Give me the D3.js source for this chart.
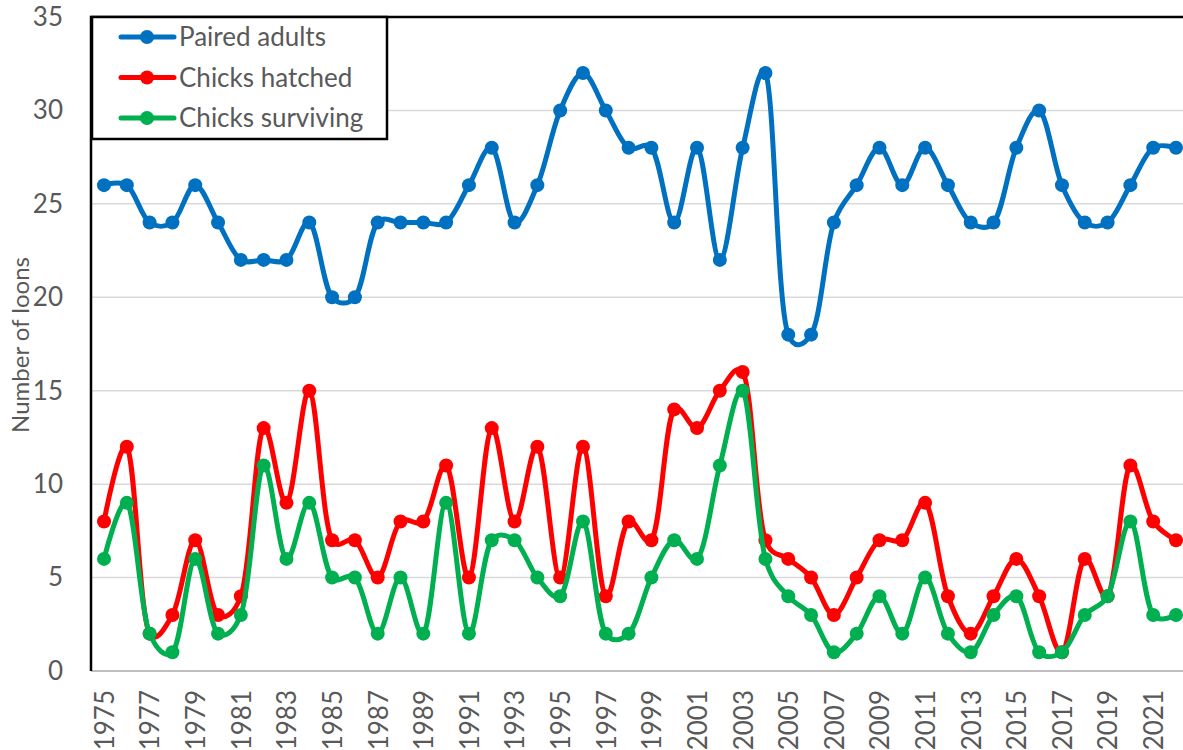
<!DOCTYPE html>
<html>
<head>
<meta charset="utf-8">
<script src="https://cdn.jsdelivr.net/npm/d3@7"></script>
<style>
	body { margin: 0; background: #fff; }
	text { font-family: Lato, "Open Sans", sans-serif; fill: #595959; }
</style>
</head>
<body>
<div id="container"></div>
<script>
// data
var years = d3.range(1975, 2023);
var pairedAdults = [26, 26, 24, 24, 26, 24, 22, 22, 22, 24, 20, 20, 24, 24, 24, 24, 26, 28, 24, 26,
	30, 32, 30, 28, 28, 24, 28, 22, 28, 32, 18, 18, 24, 26, 28, 26, 28, 26, 24, 24,
	28, 30, 26, 24, 24, 26, 28, 28];
var chicksHatched = [8, 12, 2, 3, 7, 3, 4, 13, 9, 15, 7, 7, 5, 8, 8, 11, 5, 13, 8, 12,
	5, 12, 4, 8, 7, 14, 13, 15, 16, 7, 6, 5, 3, 5, 7, 7, 9, 4, 2, 4,
	6, 4, 1, 6, 4, 11, 8, 7];
var chicksSurviving = [6, 9, 2, 1, 6, 2, 3, 11, 6, 9, 5, 5, 2, 5, 2, 9, 2, 7, 7, 5,
	4, 8, 2, 2, 5, 7, 6, 11, 15, 6, 4, 3, 1, 2, 4, 2, 5, 2, 1, 3,
	4, 1, 1, 3, 4, 8, 3, 3];
var yTicks = [0, 5, 10, 15, 20, 25, 30, 35];

var series = [
	{ name: "Paired adults", values: pairedAdults, color: "#0070C0" },
	{ name: "Chicks hatched", values: chicksHatched, color: "#FF0000" },
	{ name: "Chicks surviving", values: chicksSurviving, color: "#00B050" }
];

var width = 1183, height = 750;
var margin = { left: 91, top: 17, bottom: 79 };
var fontSize = 26;

var svg = d3.select("#container").append("svg")
	.attr("width", width)
	.attr("height", height);

var x = d3.scaleLinear()
	.domain([1975, 2022])
	.range([104, 1176]);

var y = d3.scaleLinear()
	.domain([0, 35])
	.range([height - margin.bottom, margin.top]);

// gridlines
svg.append("g")
	.selectAll("line")
	.data(yTicks.slice(1, -1)).enter()
	.append("line")
	.attr("x1", margin.left)
	.attr("x2", width)
	.attr("y1", function(d) { return y(d); })
	.attr("y2", function(d) { return y(d); })
	.style("stroke", "#d9d9d9")
	.style("stroke-width", 1.5);

// y axis labels
var yAxis = svg.append("g")
	.attr("transform", "translate(" + margin.left + ",0)")
	.call(d3.axisLeft(y).tickValues(yTicks).tickSize(0).tickPadding(28));
yAxis.select(".domain").remove();
yAxis.selectAll("text")
	.style("font-size", fontSize + "px")
	.style("fill", "#595959")
	.style("font-family", "Lato, 'Open Sans', sans-serif");

// x axis
var xAxis = svg.append("g")
	.attr("transform", "translate(0," + y(0) + ")")
	.call(d3.axisBottom(x).tickValues(years.filter(function(d) { return d % 2 == 1; }))
		.tickFormat(d3.format("d")).tickSize(0));
xAxis.select(".domain").remove();
xAxis.selectAll("text")
	.attr("transform", "rotate(-90)")
	.attr("x", -19)
	.attr("y", 0)
	.attr("dy", "0.36em")
	.style("text-anchor", "end")
	.style("font-size", fontSize + "px")
	.style("fill", "#595959")
	.style("font-family", "Lato, 'Open Sans', sans-serif");

svg.append("line")
	.attr("x1", margin.left)
	.attr("x2", width)
	.attr("y1", y(0))
	.attr("y2", y(0))
	.style("stroke", "#bfbfbf")
	.style("stroke-width", 2);

// plot border (left and top)
svg.append("path")
	.attr("d", "M" + margin.left + "," + y(0) + "V" + y(35) + "H" + width)
	.style("fill", "none")
	.style("stroke", "#000")
	.style("stroke-width", 2.5);

// axis title
svg.append("text")
	.attr("transform", "translate(29," + (y(17.5) + 1) + ") rotate(-90)")
	.attr("text-anchor", "middle")
	.style("font-size", "24px")
	.text("Number of loons");

// smoothed lines, a bit looser than centripetal
var line = d3.line()
	.curve(d3.curveCatmullRom.alpha(0.25))
	.x(function(d, i) { return x(years[i]); })
	.y(function(d) { return y(d); });

var groups = svg.selectAll(".series")
	.data(series).enter()
	.append("g")
	.attr("class", "series");

groups.append("path")
	.attr("d", function(d) { return line(d.values); })
	.style("fill", "none")
	.style("stroke", function(d) { return d.color; })
	.style("stroke-width", 5)
	.style("stroke-linejoin", "round");

groups.each(function(s) {
	d3.select(this).selectAll("circle")
		.data(s.values).enter()
		.append("circle")
		.attr("cx", function(d, i) { return x(years[i]); })
		.attr("cy", function(d) { return y(d); })
		.attr("r", 7)
		.style("fill", s.color);
});

// legend
var legend = svg.append("g");
legend.append("rect")
	.attr("x", margin.left + 1)
	.attr("y", y(35))
	.attr("width", 295)
	.attr("height", 122)
	.style("fill", "#fff")
	.style("stroke", "#000")
	.style("stroke-width", 2.5);

var items = legend.selectAll(".item")
	.data(series).enter()
	.append("g")
	.attr("class", "item")
	.attr("transform", function(d, i) { return "translate(0," + (37 + i * 40.5) + ")"; });

items.append("line")
	.attr("x1", 121)
	.attr("x2", 174)
	.style("stroke", function(d) { return d.color; })
	.style("stroke-width", 5)
	.style("stroke-linecap", "round");

items.append("circle")
	.attr("cx", 147)
	.attr("r", 7)
	.style("fill", function(d) { return d.color; });

items.append("text")
	.attr("x", 179)
	.attr("dy", "0.35em")
	.style("font-size", fontSize + "px")
	.text(function(d) { return d.name; });
</script>
</body>
</html>
